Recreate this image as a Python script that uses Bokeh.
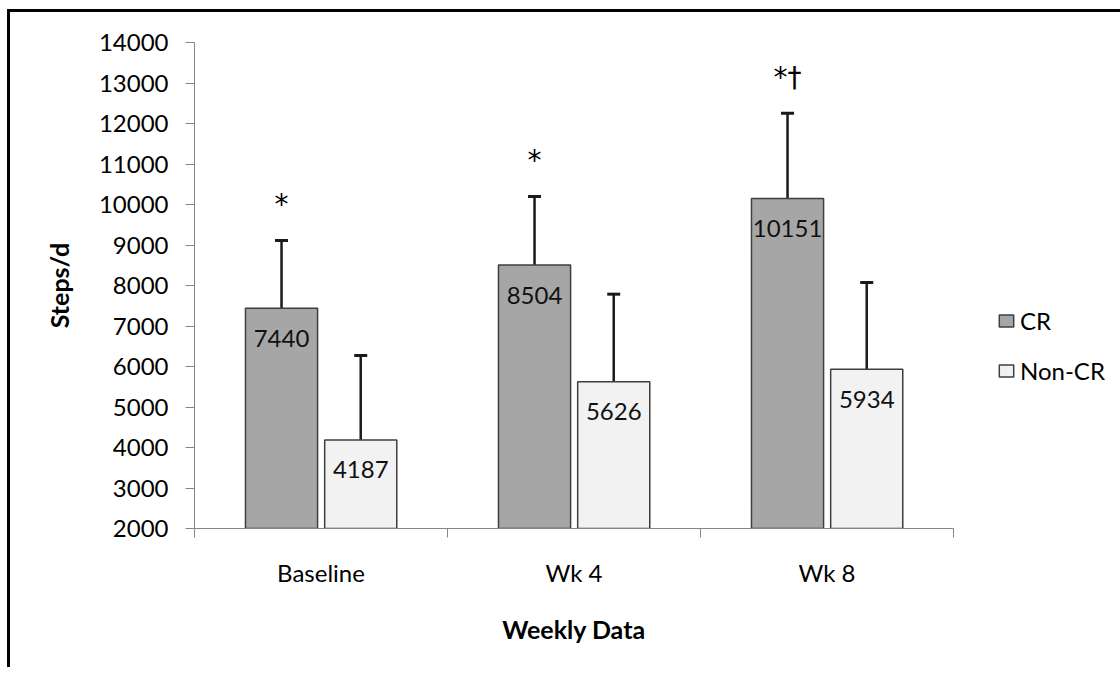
import numpy as np
from bokeh.plotting import figure
from bokeh.models import (ColumnDataSource, Range1d, FixedTicker, Whisker, TeeHead,
                          Legend, LegendItem)
from bokeh.core.properties import value
from bokeh.embed import file_html
from bokeh.resources import INLINE

# ---- data ----
categories = ["Baseline", "Wk 4", "Wk 8"]
cr_mean = [7440, 8504, 10151]
cr_sd = [1670, 1695, 2100]
noncr_mean = [4187, 5626, 5934]
noncr_sd = [2085, 2160, 2140]
sig_labels = ["*", "*", "*\u2020"]
y_ticks = list(range(2000, 14001, 1000))

FONT = "Lato"
TXT = "24px"

pos = np.arange(len(categories)) + 0.5
cr_src = ColumnDataSource(dict(
    x=pos - 0.156, top=cr_mean, upper=np.array(cr_mean) + np.array(cr_sd),
    lab=[str(v) for v in cr_mean], sig=sig_labels))
nc_src = ColumnDataSource(dict(
    x=pos + 0.157, top=noncr_mean, upper=np.array(noncr_mean) + np.array(noncr_sd),
    lab=[str(v) for v in noncr_mean]))

p = figure(frame_width=759, frame_height=486, width=1105, height=655,
           x_range=Range1d(0, 3), y_range=Range1d(2000, 14000),
           output_backend="svg", toolbar_location=None,
           min_border_left=184, min_border_top=30, min_border_right=162,
           min_border_bottom=139)
p.margin = (9, 0, 0, 7)
p.styles = {"border-top": "3px solid black", "border-left": "3px solid black"}
p.outline_line_color = None
p.xgrid.grid_line_color = None
p.ygrid.grid_line_color = None
p.background_fill_color = "white"
p.border_fill_color = "white"

cr_r = p.vbar(x="x", top="top", bottom=2000, width=0.285, source=cr_src,
              fill_color="#a6a6a6", line_color="#3f3f3f", line_width=1.5)
nc_r = p.vbar(x="x", top="top", bottom=2000, width=0.285, source=nc_src,
              fill_color="#f2f2f2", line_color="#3f3f3f", line_width=1.5)

for src in (cr_src, nc_src):
    w = Whisker(base="x", upper="upper", lower="top", source=src, dimension="height",
                line_color="#1a1a1a", line_width=2.5,
                upper_head=TeeHead(size=13, line_width=3, line_color="#1a1a1a"),
                lower_head=None)
    p.add_layout(w)
    p.text(x="x", y="top", text="lab", source=src, text_font=value(FONT),
           text_font_size=TXT, text_color="#111111", text_align="center",
           text_baseline="middle", y_offset=30)

p.text(x="x", y="upper", text="sig", source=cr_src, text_font=value("DejaVu Sans"),
       text_font_size="28px", text_color="#000000", text_align="center",
       text_baseline="middle", y_offset=-36)

# axes
ya = p.yaxis[0]
ya.ticker = FixedTicker(ticks=y_ticks)
ya.axis_label = "Steps/d"
ya.axis_label_text_font = FONT
ya.axis_label_text_font_style = "bold"
ya.axis_label_text_font_size = "25px"
ya.axis_label_text_color = "#000000"
ya.axis_label_standoff = 22
ya.major_label_text_font = FONT
ya.major_label_text_font_size = TXT
ya.major_label_text_color = "#000000"
ya.major_label_standoff = 17
ya.major_tick_out = 9
ya.major_tick_in = 0
ya.minor_tick_out = 0
ya.minor_tick_in = 0
ya.axis_line_color = "#868686"
ya.major_tick_line_color = "#868686"

xa = p.xaxis[0]
xa.ticker = FixedTicker(ticks=list(pos), minor_ticks=list(range(len(categories) + 1)))
xa.major_label_overrides = {float(v): c for v, c in zip(pos, categories)}
xa.axis_label = "Weekly Data"
xa.axis_label_text_font = FONT
xa.axis_label_text_font_style = "bold"
xa.axis_label_text_font_size = "25px"
xa.axis_label_text_color = "#000000"
xa.axis_label_standoff = 24
xa.major_label_text_font = FONT
xa.major_label_text_font_size = TXT
xa.major_label_text_color = "#000000"
xa.major_label_standoff = 20
xa.major_tick_out = 0
xa.major_tick_in = 0
xa.minor_tick_out = 9
xa.minor_tick_in = 0
xa.axis_line_color = "#868686"
xa.minor_tick_line_color = "#868686"

legend = Legend(items=[LegendItem(label="CR", renderers=[cr_r]),
                       LegendItem(label="Non-CR", renderers=[nc_r])],
                location=(44, 143), border_line_color=None,
                background_fill_alpha=0, label_text_font=FONT,
                label_text_font_size=TXT, label_text_color="#000000",
                glyph_width=18, glyph_height=15, label_height=30,
                spacing=20, padding=0, margin=0, label_standoff=5)
p.add_layout(legend, "right")

open("out.html", "w").write(file_html(p, INLINE))
